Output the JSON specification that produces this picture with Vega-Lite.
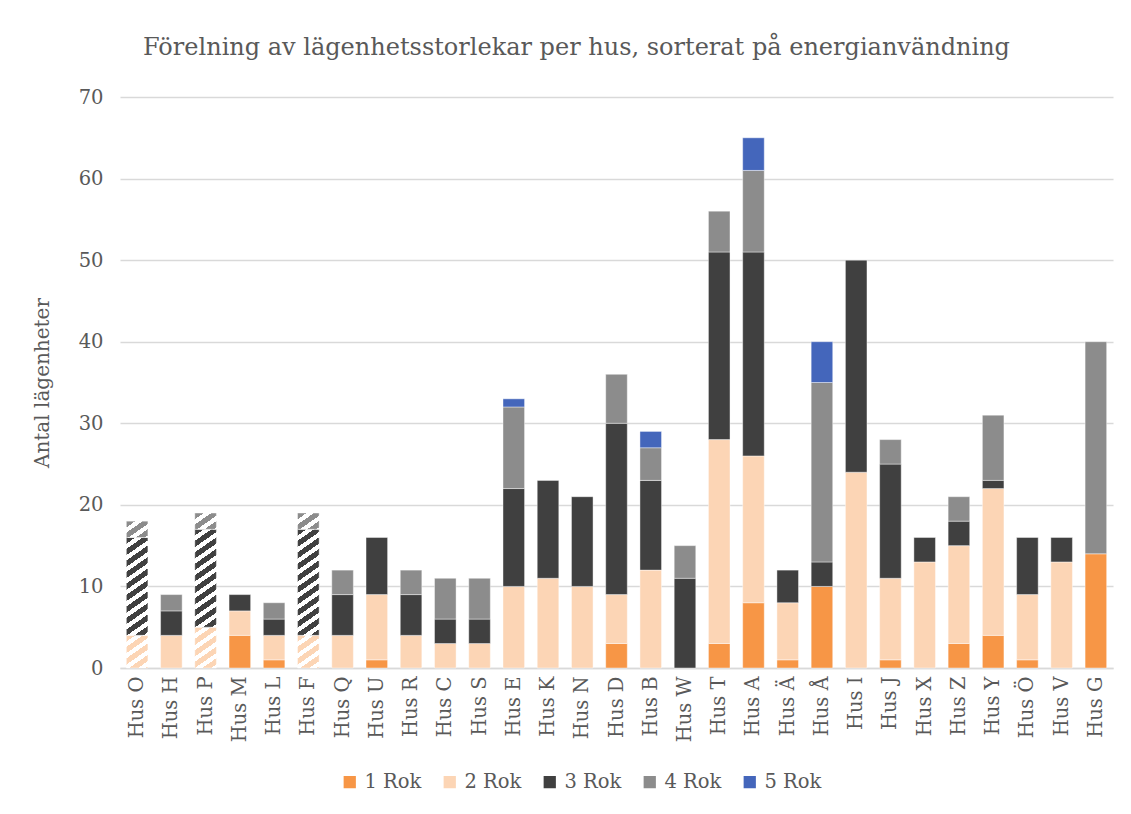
{
  "$schema": "https://vega.github.io/schema/vega-lite/v6.json",
  "autosize": {"type": "none"},
  "padding": {"left": 120, "top": 97, "right": 18, "bottom": 146},
  "width": 993,
  "height": 571,
  "background": "white",
  "title": {
    "text": "Förelning av lägenhetsstorlekar per hus, sorterat på energianvändning",
    "font": "DejaVu Serif",
    "fontSize": 24,
    "fontWeight": "normal",
    "color": "#595959",
    "anchor": "middle",
    "offset": 27,
    "dx": -40
  },
  "config": {
    "font": "DejaVu Serif",
    "view": {"stroke": null},
    "axis": {"labelColor": "#595959", "labelFont": "DejaVu Serif", "titleFont": "DejaVu Serif"},
    "legend": {"labelFont": "DejaVu Serif"}
  },
  "data": {
    "values": [
      {"hus": "Hus O", "rok": "2 Rok", "antal": 4},
      {"hus": "Hus O", "rok": "3 Rok", "antal": 12},
      {"hus": "Hus O", "rok": "4 Rok", "antal": 2},
      {"hus": "Hus H", "rok": "2 Rok", "antal": 4},
      {"hus": "Hus H", "rok": "3 Rok", "antal": 3},
      {"hus": "Hus H", "rok": "4 Rok", "antal": 2},
      {"hus": "Hus P", "rok": "2 Rok", "antal": 5},
      {"hus": "Hus P", "rok": "3 Rok", "antal": 12},
      {"hus": "Hus P", "rok": "4 Rok", "antal": 2},
      {"hus": "Hus M", "rok": "1 Rok", "antal": 4},
      {"hus": "Hus M", "rok": "2 Rok", "antal": 3},
      {"hus": "Hus M", "rok": "3 Rok", "antal": 2},
      {"hus": "Hus L", "rok": "1 Rok", "antal": 1},
      {"hus": "Hus L", "rok": "2 Rok", "antal": 3},
      {"hus": "Hus L", "rok": "3 Rok", "antal": 2},
      {"hus": "Hus L", "rok": "4 Rok", "antal": 2},
      {"hus": "Hus F", "rok": "2 Rok", "antal": 4},
      {"hus": "Hus F", "rok": "3 Rok", "antal": 13},
      {"hus": "Hus F", "rok": "4 Rok", "antal": 2},
      {"hus": "Hus Q", "rok": "2 Rok", "antal": 4},
      {"hus": "Hus Q", "rok": "3 Rok", "antal": 5},
      {"hus": "Hus Q", "rok": "4 Rok", "antal": 3},
      {"hus": "Hus U", "rok": "1 Rok", "antal": 1},
      {"hus": "Hus U", "rok": "2 Rok", "antal": 8},
      {"hus": "Hus U", "rok": "3 Rok", "antal": 7},
      {"hus": "Hus R", "rok": "2 Rok", "antal": 4},
      {"hus": "Hus R", "rok": "3 Rok", "antal": 5},
      {"hus": "Hus R", "rok": "4 Rok", "antal": 3},
      {"hus": "Hus C", "rok": "2 Rok", "antal": 3},
      {"hus": "Hus C", "rok": "3 Rok", "antal": 3},
      {"hus": "Hus C", "rok": "4 Rok", "antal": 5},
      {"hus": "Hus S", "rok": "2 Rok", "antal": 3},
      {"hus": "Hus S", "rok": "3 Rok", "antal": 3},
      {"hus": "Hus S", "rok": "4 Rok", "antal": 5},
      {"hus": "Hus E", "rok": "2 Rok", "antal": 10},
      {"hus": "Hus E", "rok": "3 Rok", "antal": 12},
      {"hus": "Hus E", "rok": "4 Rok", "antal": 10},
      {"hus": "Hus E", "rok": "5 Rok", "antal": 1},
      {"hus": "Hus K", "rok": "2 Rok", "antal": 11},
      {"hus": "Hus K", "rok": "3 Rok", "antal": 12},
      {"hus": "Hus N", "rok": "2 Rok", "antal": 10},
      {"hus": "Hus N", "rok": "3 Rok", "antal": 11},
      {"hus": "Hus D", "rok": "1 Rok", "antal": 3},
      {"hus": "Hus D", "rok": "2 Rok", "antal": 6},
      {"hus": "Hus D", "rok": "3 Rok", "antal": 21},
      {"hus": "Hus D", "rok": "4 Rok", "antal": 6},
      {"hus": "Hus B", "rok": "2 Rok", "antal": 12},
      {"hus": "Hus B", "rok": "3 Rok", "antal": 11},
      {"hus": "Hus B", "rok": "4 Rok", "antal": 4},
      {"hus": "Hus B", "rok": "5 Rok", "antal": 2},
      {"hus": "Hus W", "rok": "3 Rok", "antal": 11},
      {"hus": "Hus W", "rok": "4 Rok", "antal": 4},
      {"hus": "Hus T", "rok": "1 Rok", "antal": 3},
      {"hus": "Hus T", "rok": "2 Rok", "antal": 25},
      {"hus": "Hus T", "rok": "3 Rok", "antal": 23},
      {"hus": "Hus T", "rok": "4 Rok", "antal": 5},
      {"hus": "Hus A", "rok": "1 Rok", "antal": 8},
      {"hus": "Hus A", "rok": "2 Rok", "antal": 18},
      {"hus": "Hus A", "rok": "3 Rok", "antal": 25},
      {"hus": "Hus A", "rok": "4 Rok", "antal": 10},
      {"hus": "Hus A", "rok": "5 Rok", "antal": 4},
      {"hus": "Hus Ä", "rok": "1 Rok", "antal": 1},
      {"hus": "Hus Ä", "rok": "2 Rok", "antal": 7},
      {"hus": "Hus Ä", "rok": "3 Rok", "antal": 4},
      {"hus": "Hus Å", "rok": "1 Rok", "antal": 10},
      {"hus": "Hus Å", "rok": "3 Rok", "antal": 3},
      {"hus": "Hus Å", "rok": "4 Rok", "antal": 22},
      {"hus": "Hus Å", "rok": "5 Rok", "antal": 5},
      {"hus": "Hus I", "rok": "2 Rok", "antal": 24},
      {"hus": "Hus I", "rok": "3 Rok", "antal": 26},
      {"hus": "Hus J", "rok": "1 Rok", "antal": 1},
      {"hus": "Hus J", "rok": "2 Rok", "antal": 10},
      {"hus": "Hus J", "rok": "3 Rok", "antal": 14},
      {"hus": "Hus J", "rok": "4 Rok", "antal": 3},
      {"hus": "Hus X", "rok": "2 Rok", "antal": 13},
      {"hus": "Hus X", "rok": "3 Rok", "antal": 3},
      {"hus": "Hus Z", "rok": "1 Rok", "antal": 3},
      {"hus": "Hus Z", "rok": "2 Rok", "antal": 12},
      {"hus": "Hus Z", "rok": "3 Rok", "antal": 3},
      {"hus": "Hus Z", "rok": "4 Rok", "antal": 3},
      {"hus": "Hus Y", "rok": "1 Rok", "antal": 4},
      {"hus": "Hus Y", "rok": "2 Rok", "antal": 18},
      {"hus": "Hus Y", "rok": "3 Rok", "antal": 1},
      {"hus": "Hus Y", "rok": "4 Rok", "antal": 8},
      {"hus": "Hus Ö", "rok": "1 Rok", "antal": 1},
      {"hus": "Hus Ö", "rok": "2 Rok", "antal": 8},
      {"hus": "Hus Ö", "rok": "3 Rok", "antal": 7},
      {"hus": "Hus V", "rok": "2 Rok", "antal": 13},
      {"hus": "Hus V", "rok": "3 Rok", "antal": 3},
      {"hus": "Hus G", "rok": "1 Rok", "antal": 14},
      {"hus": "Hus G", "rok": "4 Rok", "antal": 26}
    ]
  },
  "mark": {"type": "bar", "stroke": "#ffffff", "strokeWidth": 0.6, "strokeOpacity": 0.7},
  "encoding": {
    "x": {
      "field": "hus",
      "type": "nominal",
      "sort": null,
      "scale": {"paddingInner": 0.37, "paddingOuter": 0.185},
      "axis": {
        "title": null,
        "labelAngle": -90,
        "labelPadding": 8,
        "labelFontSize": 19.5,
        "labelColor": "#595959",
        "ticks": false,
        "domainColor": "#d9d9d9",
        "domainWidth": 1.5
      }
    },
    "y": {
      "field": "antal",
      "type": "quantitative",
      "stack": "zero",
      "scale": {"domain": [0, 70], "nice": false},
      "axis": {
        "title": "Antal lägenheter",
        "values": [0, 10, 20, 30, 40, 50, 60, 70],
        "grid": true,
        "gridColor": "#d9d9d9",
        "gridWidth": 1.3,
        "domain": false,
        "ticks": false,
        "labelPadding": 17,
        "labelFontSize": 19.5,
        "labelColor": "#595959",
        "titleFontSize": 20,
        "titleFontWeight": "normal",
        "titleColor": "#595959",
        "titlePadding": 26
      }
    },
    "order": {"field": "rok", "sort": "ascending"},
    "color": {
      "condition": [
        {
          "test": "(datum.hus === 'Hus O' || datum.hus === 'Hus F') && datum.rok === '2 Rok'",
          "value": {"gradient": "linear", "x1": 0, "y1": 0, "x2": 0.5575, "y2": 1.2048, "stops": [
            {"offset": 0, "color": "#FCD5B5"}, {"offset": 0.1325, "color": "#FCD5B5"}, {"offset": 0.1325, "color": "#ffffff"}, {"offset": 0.2409, "color": "#ffffff"},
            {"offset": 0.2409, "color": "#FCD5B5"}, {"offset": 0.3734, "color": "#FCD5B5"}, {"offset": 0.3734, "color": "#ffffff"}, {"offset": 0.4818, "color": "#ffffff"},
            {"offset": 0.4818, "color": "#FCD5B5"}, {"offset": 0.6143, "color": "#FCD5B5"}, {"offset": 0.6143, "color": "#ffffff"}, {"offset": 0.7227, "color": "#ffffff"},
            {"offset": 0.7227, "color": "#FCD5B5"}, {"offset": 0.8552, "color": "#FCD5B5"}, {"offset": 0.8552, "color": "#ffffff"}, {"offset": 0.9636, "color": "#ffffff"},
            {"offset": 0.9636, "color": "#FCD5B5"}, {"offset": 1, "color": "#FCD5B5"}
          ]}
        },
        {
          "test": "datum.hus === 'Hus P' && datum.rok === '2 Rok'",
          "value": {"gradient": "linear", "x1": 0, "y1": 0, "x2": 0.4461, "y2": 1.2051, "stops": [
            {"offset": 0, "color": "#FCD5B5"}, {"offset": 0.1132, "color": "#FCD5B5"}, {"offset": 0.1132, "color": "#ffffff"}, {"offset": 0.2058, "color": "#ffffff"},
            {"offset": 0.2058, "color": "#FCD5B5"}, {"offset": 0.3190, "color": "#FCD5B5"}, {"offset": 0.3190, "color": "#ffffff"}, {"offset": 0.4116, "color": "#ffffff"},
            {"offset": 0.4116, "color": "#FCD5B5"}, {"offset": 0.5248, "color": "#FCD5B5"}, {"offset": 0.5248, "color": "#ffffff"}, {"offset": 0.6174, "color": "#ffffff"},
            {"offset": 0.6174, "color": "#FCD5B5"}, {"offset": 0.7306, "color": "#FCD5B5"}, {"offset": 0.7306, "color": "#ffffff"}, {"offset": 0.8232, "color": "#ffffff"},
            {"offset": 0.8232, "color": "#FCD5B5"}, {"offset": 0.9364, "color": "#FCD5B5"}, {"offset": 0.9364, "color": "#ffffff"}, {"offset": 1, "color": "#ffffff"}
          ]}
        },
        {
          "test": "(datum.hus === 'Hus O' || datum.hus === 'Hus P') && datum.rok === '3 Rok'",
          "value": {"gradient": "linear", "x1": 0, "y1": 0, "x2": 0.1739, "y2": 1.1274, "stops": [
            {"offset": 0, "color": "#404040"}, {"offset": 0.0560, "color": "#404040"}, {"offset": 0.0560, "color": "#ffffff"}, {"offset": 0.1018, "color": "#ffffff"},
            {"offset": 0.1018, "color": "#404040"}, {"offset": 0.1578, "color": "#404040"}, {"offset": 0.1578, "color": "#ffffff"}, {"offset": 0.2036, "color": "#ffffff"},
            {"offset": 0.2036, "color": "#404040"}, {"offset": 0.2596, "color": "#404040"}, {"offset": 0.2596, "color": "#ffffff"}, {"offset": 0.3053, "color": "#ffffff"},
            {"offset": 0.3053, "color": "#404040"}, {"offset": 0.3613, "color": "#404040"}, {"offset": 0.3613, "color": "#ffffff"}, {"offset": 0.4071, "color": "#ffffff"},
            {"offset": 0.4071, "color": "#404040"}, {"offset": 0.4631, "color": "#404040"}, {"offset": 0.4631, "color": "#ffffff"}, {"offset": 0.5089, "color": "#ffffff"},
            {"offset": 0.5089, "color": "#404040"}, {"offset": 0.5649, "color": "#404040"}, {"offset": 0.5649, "color": "#ffffff"}, {"offset": 0.6107, "color": "#ffffff"},
            {"offset": 0.6107, "color": "#404040"}, {"offset": 0.6667, "color": "#404040"}, {"offset": 0.6667, "color": "#ffffff"}, {"offset": 0.7125, "color": "#ffffff"},
            {"offset": 0.7125, "color": "#404040"}, {"offset": 0.7685, "color": "#404040"}, {"offset": 0.7685, "color": "#ffffff"}, {"offset": 0.8142, "color": "#ffffff"},
            {"offset": 0.8142, "color": "#404040"}, {"offset": 0.8702, "color": "#404040"}, {"offset": 0.8702, "color": "#ffffff"}, {"offset": 0.9160, "color": "#ffffff"},
            {"offset": 0.9160, "color": "#404040"}, {"offset": 0.9720, "color": "#404040"}, {"offset": 0.9720, "color": "#ffffff"}, {"offset": 1, "color": "#ffffff"}
          ]}
        },
        {
          "test": "datum.hus === 'Hus F' && datum.rok === '3 Rok'",
          "value": {"gradient": "linear", "x1": 0, "y1": 0, "x2": 0.1594, "y2": 1.1197, "stops": [
            {"offset": 0, "color": "#404040"}, {"offset": 0.0522, "color": "#404040"}, {"offset": 0.0522, "color": "#ffffff"}, {"offset": 0.0949, "color": "#ffffff"},
            {"offset": 0.0949, "color": "#404040"}, {"offset": 0.1471, "color": "#404040"}, {"offset": 0.1471, "color": "#ffffff"}, {"offset": 0.1899, "color": "#ffffff"},
            {"offset": 0.1899, "color": "#404040"}, {"offset": 0.2421, "color": "#404040"}, {"offset": 0.2421, "color": "#ffffff"}, {"offset": 0.2848, "color": "#ffffff"},
            {"offset": 0.2848, "color": "#404040"}, {"offset": 0.3370, "color": "#404040"}, {"offset": 0.3370, "color": "#ffffff"}, {"offset": 0.3797, "color": "#ffffff"},
            {"offset": 0.3797, "color": "#404040"}, {"offset": 0.4319, "color": "#404040"}, {"offset": 0.4319, "color": "#ffffff"}, {"offset": 0.4747, "color": "#ffffff"},
            {"offset": 0.4747, "color": "#404040"}, {"offset": 0.5269, "color": "#404040"}, {"offset": 0.5269, "color": "#ffffff"}, {"offset": 0.5696, "color": "#ffffff"},
            {"offset": 0.5696, "color": "#404040"}, {"offset": 0.6218, "color": "#404040"}, {"offset": 0.6218, "color": "#ffffff"}, {"offset": 0.6645, "color": "#ffffff"},
            {"offset": 0.6645, "color": "#404040"}, {"offset": 0.7167, "color": "#404040"}, {"offset": 0.7167, "color": "#ffffff"}, {"offset": 0.7594, "color": "#ffffff"},
            {"offset": 0.7594, "color": "#404040"}, {"offset": 0.8116, "color": "#404040"}, {"offset": 0.8116, "color": "#ffffff"}, {"offset": 0.8544, "color": "#ffffff"},
            {"offset": 0.8544, "color": "#404040"}, {"offset": 0.9066, "color": "#404040"}, {"offset": 0.9066, "color": "#ffffff"}, {"offset": 0.9493, "color": "#ffffff"},
            {"offset": 0.9493, "color": "#404040"}, {"offset": 1, "color": "#404040"}
          ]}
        },
        {
          "test": "(datum.hus === 'Hus O' || datum.hus === 'Hus P' || datum.hus === 'Hus F') && datum.rok === '4 Rok'",
          "value": {"gradient": "linear", "x1": 0, "y1": 0, "x2": 0.9601, "y2": 1.0370, "stops": [
            {"offset": 0, "color": "#8C8C8C"}, {"offset": 0.2014, "color": "#8C8C8C"}, {"offset": 0.2014, "color": "#ffffff"}, {"offset": 0.3661, "color": "#ffffff"},
            {"offset": 0.3661, "color": "#8C8C8C"}, {"offset": 0.5675, "color": "#8C8C8C"}, {"offset": 0.5675, "color": "#ffffff"}, {"offset": 0.7322, "color": "#ffffff"},
            {"offset": 0.7322, "color": "#8C8C8C"}, {"offset": 0.9336, "color": "#8C8C8C"}, {"offset": 0.9336, "color": "#ffffff"}, {"offset": 1, "color": "#ffffff"}
          ]}
        }
      ],
      "field": "rok",
      "type": "nominal",
      "scale": {
        "domain": ["1 Rok", "2 Rok", "3 Rok", "4 Rok", "5 Rok"],
        "range": ["#F79646", "#FCD5B5", "#404040", "#8C8C8C", "#4466BB"]
      },
      "legend": {
        "title": null,
        "orient": "none",
        "legendX": 220,
        "legendY": 675,
        "direction": "horizontal",
        "symbolType": "square",
        "symbolSize": 150,
        "symbolStrokeWidth": 0,
        "labelFontSize": 19.5,
        "labelColor": "#595959",
        "labelOffset": 5,
        "columnPadding": 18
      }
    }
  }
}
